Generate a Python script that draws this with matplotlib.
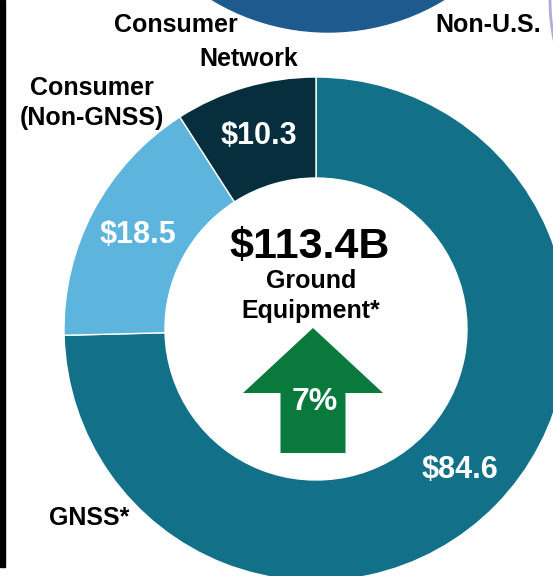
import matplotlib.pyplot as plt
from matplotlib.patches import Circle, Rectangle, FancyArrow

W, H = 553, 576

# ground equipment revenue, $B
segments = ["GNSS*", "Consumer (Non-GNSS)", "Consumer Network"]
values = [84.6, 18.5, 10.3]
colors = ["#127189", "#5DB4DC", "#062E3D"]
total_label = "$113.4B"
center_label = "Ground\nEquipment*"
growth_label = "7%"

# no narrow font available, Liberation Sans is the closest shape
plt.rcParams["font.family"] = ["Liberation Sans", "DejaVu Sans"]
plt.rcParams["font.weight"] = "bold"


def py(y):
    # pixel row from top -> data y
    return H - y


fig = plt.figure(figsize=(W / 100, H / 100), dpi=100)
ax = fig.add_axes([0, 0, 1, 1])

total = sum(values)
cx, cy, r_out, r_in = 316, py(329), 252, 151

ax.pie(
    values,
    colors=colors,
    startangle=90,
    counterclock=False,
    radius=r_out,
    center=(cx, cy),
    autopct=lambda p: "${:.1f}".format(p * total / 100),
    pctdistance=(r_out + r_in) / 2 / r_out,
    wedgeprops=dict(width=r_out - r_in, edgecolor="white", linewidth=1),
    textprops=dict(color="white", fontsize=22, fontweight="bold"),
    frame=True,
)
ax.set_xlim(0, W)
ax.set_ylim(0, H)
ax.set_aspect("equal")
ax.axis("off")

# neighbouring charts, cropped
ax.add_patch(Circle((328, py(-192)), 224, color="#1F5A8F", zorder=0))
ax.add_patch(Circle((750, py(0)), 200, facecolor="white", edgecolor="#B8A8D8",
                    linewidth=2, zorder=0))
ax.add_patch(Rectangle((0, py(567)), 5, 567, color="black", zorder=0))

# centre text
ax.text(310, py(247), total_label, ha="center", va="center", fontsize=31,
        fontweight="bold", color="black")
ax.text(311, py(296), center_label, ha="center", va="center", fontsize=18,
        fontweight="bold", color="black", linespacing=1.3)

# growth arrow
ax.add_patch(FancyArrow(313, py(453), 0, 125, width=65, head_width=140,
                        head_length=65, length_includes_head=True,
                        color="#0A7A3C", linewidth=0))
ax.text(315, py(402), growth_label, ha="center", va="center", fontsize=23,
        fontweight="bold", color="white")

# outside labels
ax.text(92, py(103), "Consumer\n(Non-GNSS)", ha="center", va="center",
        fontsize=18, fontweight="bold", linespacing=1.35)
ax.text(176, py(25), "Consumer", ha="center", va="center", fontsize=18,
        fontweight="bold")
ax.text(249, py(59), "Network", ha="center", va="center", fontsize=18,
        fontweight="bold")
ax.text(488, py(25), "Non-U.S.", ha="center", va="center", fontsize=18,
        fontweight="bold")
ax.text(89, py(518), "GNSS*", ha="center", va="center", fontsize=18,
        fontweight="bold")

fig.savefig("out.png", dpi=100)
